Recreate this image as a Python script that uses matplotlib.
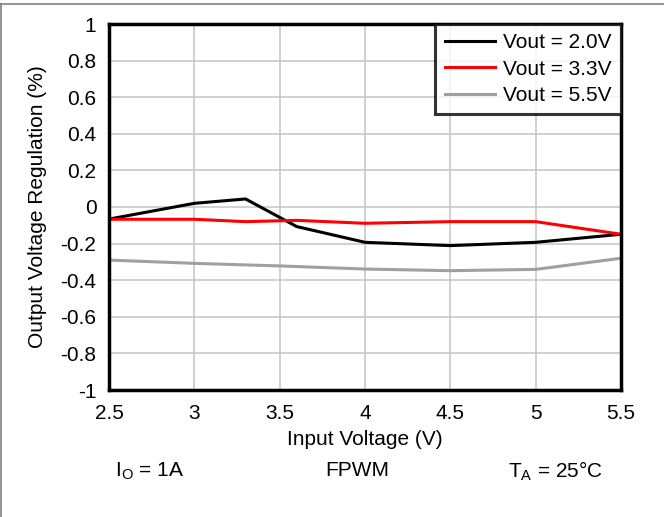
import matplotlib
matplotlib.use("Agg")
import matplotlib.pyplot as plt
from matplotlib.lines import Line2D

plt.rcParams['font.family'] = ['Liberation Sans', 'DejaVu Sans']

vin = [2.5, 3.0, 3.3, 3.6, 4.0, 4.5, 5.0, 5.5]
reg_2v0 = [-0.066, 0.02, 0.044, -0.107, -0.193, -0.211, -0.193, -0.149]
reg_3v3 = [-0.067, -0.067, -0.080, -0.073, -0.089, -0.080, -0.080, -0.149]
vin_5v5 = [2.5, 3.0, 3.5, 4.0, 4.5, 5.0, 5.5]
reg_5v5 = [-0.290, -0.308, -0.322, -0.339, -0.348, -0.341, -0.280]

x_ticks = [2.5, 3, 3.5, 4, 4.5, 5, 5.5]
x_tick_labels = ["2.5", "3", "3.5", "4", "4.5", "5", "5.5"]
y_ticks = [1, 0.8, 0.6, 0.4, 0.2, 0, -0.2, -0.4, -0.6, -0.8, -1]
y_tick_labels = ["1", "0.8", "0.6", "0.4", "0.2", "0", "-0.2", "-0.4", "-0.6", "-0.8", "-1"]

FS = 15
W, H = 664, 517
fig = plt.figure(figsize=(W / 100, H / 100), dpi=100)
ax = fig.add_axes([109 / W, 1 - 390 / H, (621 - 109) / W, (390 - 24) / H])

ax.plot(vin, reg_2v0, color="black", lw=2.2, label="Vout = 2.0V")
ax.plot(vin, reg_3v3, color="#ff0000", lw=2.2, label="Vout = 3.3V")
ax.plot(vin_5v5, reg_5v5, color="#a0a0a0", lw=2.2, label="Vout = 5.5V")

ax.set_xlim(2.5, 5.5)
ax.set_ylim(-1, 1)
ax.set_xticks(x_ticks)
ax.set_xticklabels(x_tick_labels)
ax.set_yticks(y_ticks)
ax.set_yticklabels(y_tick_labels)
ax.tick_params(axis="x", length=0, labelsize=FS, pad=10)
ax.tick_params(axis="y", length=0, labelsize=FS, pad=9)
ax.grid(True, color="#c8c8c8", lw=1.2)
ax.set_axisbelow(True)
for s in ax.spines.values():
    s.set_linewidth(2.5)
    s.set_color("black")

ax.set_xlabel("Input Voltage (V)", fontsize=FS, labelpad=5)
ax.set_ylabel("Output Voltage Regulation (%)", fontsize=FS, labelpad=10)

leg = ax.legend(loc="upper right", fontsize=FS, frameon=True, fancybox=False,
                borderaxespad=0, handlelength=2.4, borderpad=0.45,
                labelspacing=0.35, handletextpad=0.4)
leg.get_frame().set_edgecolor("black")
leg.get_frame().set_linewidth(2.2)

fig.text(150 / W, 1 - 471 / H, r"I$_\mathregular{O}$ = 1A", fontsize=FS, ha="center", va="center")
fig.text(357 / W, 1 - 471 / H, "FPWM", fontsize=FS, ha="center", va="center")
fig.text(555 / W, 1 - 471 / H, r"T$_\mathregular{A}$ = 25°C", fontsize=FS, ha="center", va="center")

# thin frame lines along the top and left edges of the figure
fig.add_artist(Line2D([0, 1], [1 - 3.5 / H, 1 - 3.5 / H], transform=fig.transFigure, color="#808080", lw=1.2))
fig.add_artist(Line2D([0.5 / W, 0.5 / W], [0, 1 - 3.5 / H], transform=fig.transFigure, color="#808080", lw=1.2))

fig.savefig("out.png", dpi=100)
